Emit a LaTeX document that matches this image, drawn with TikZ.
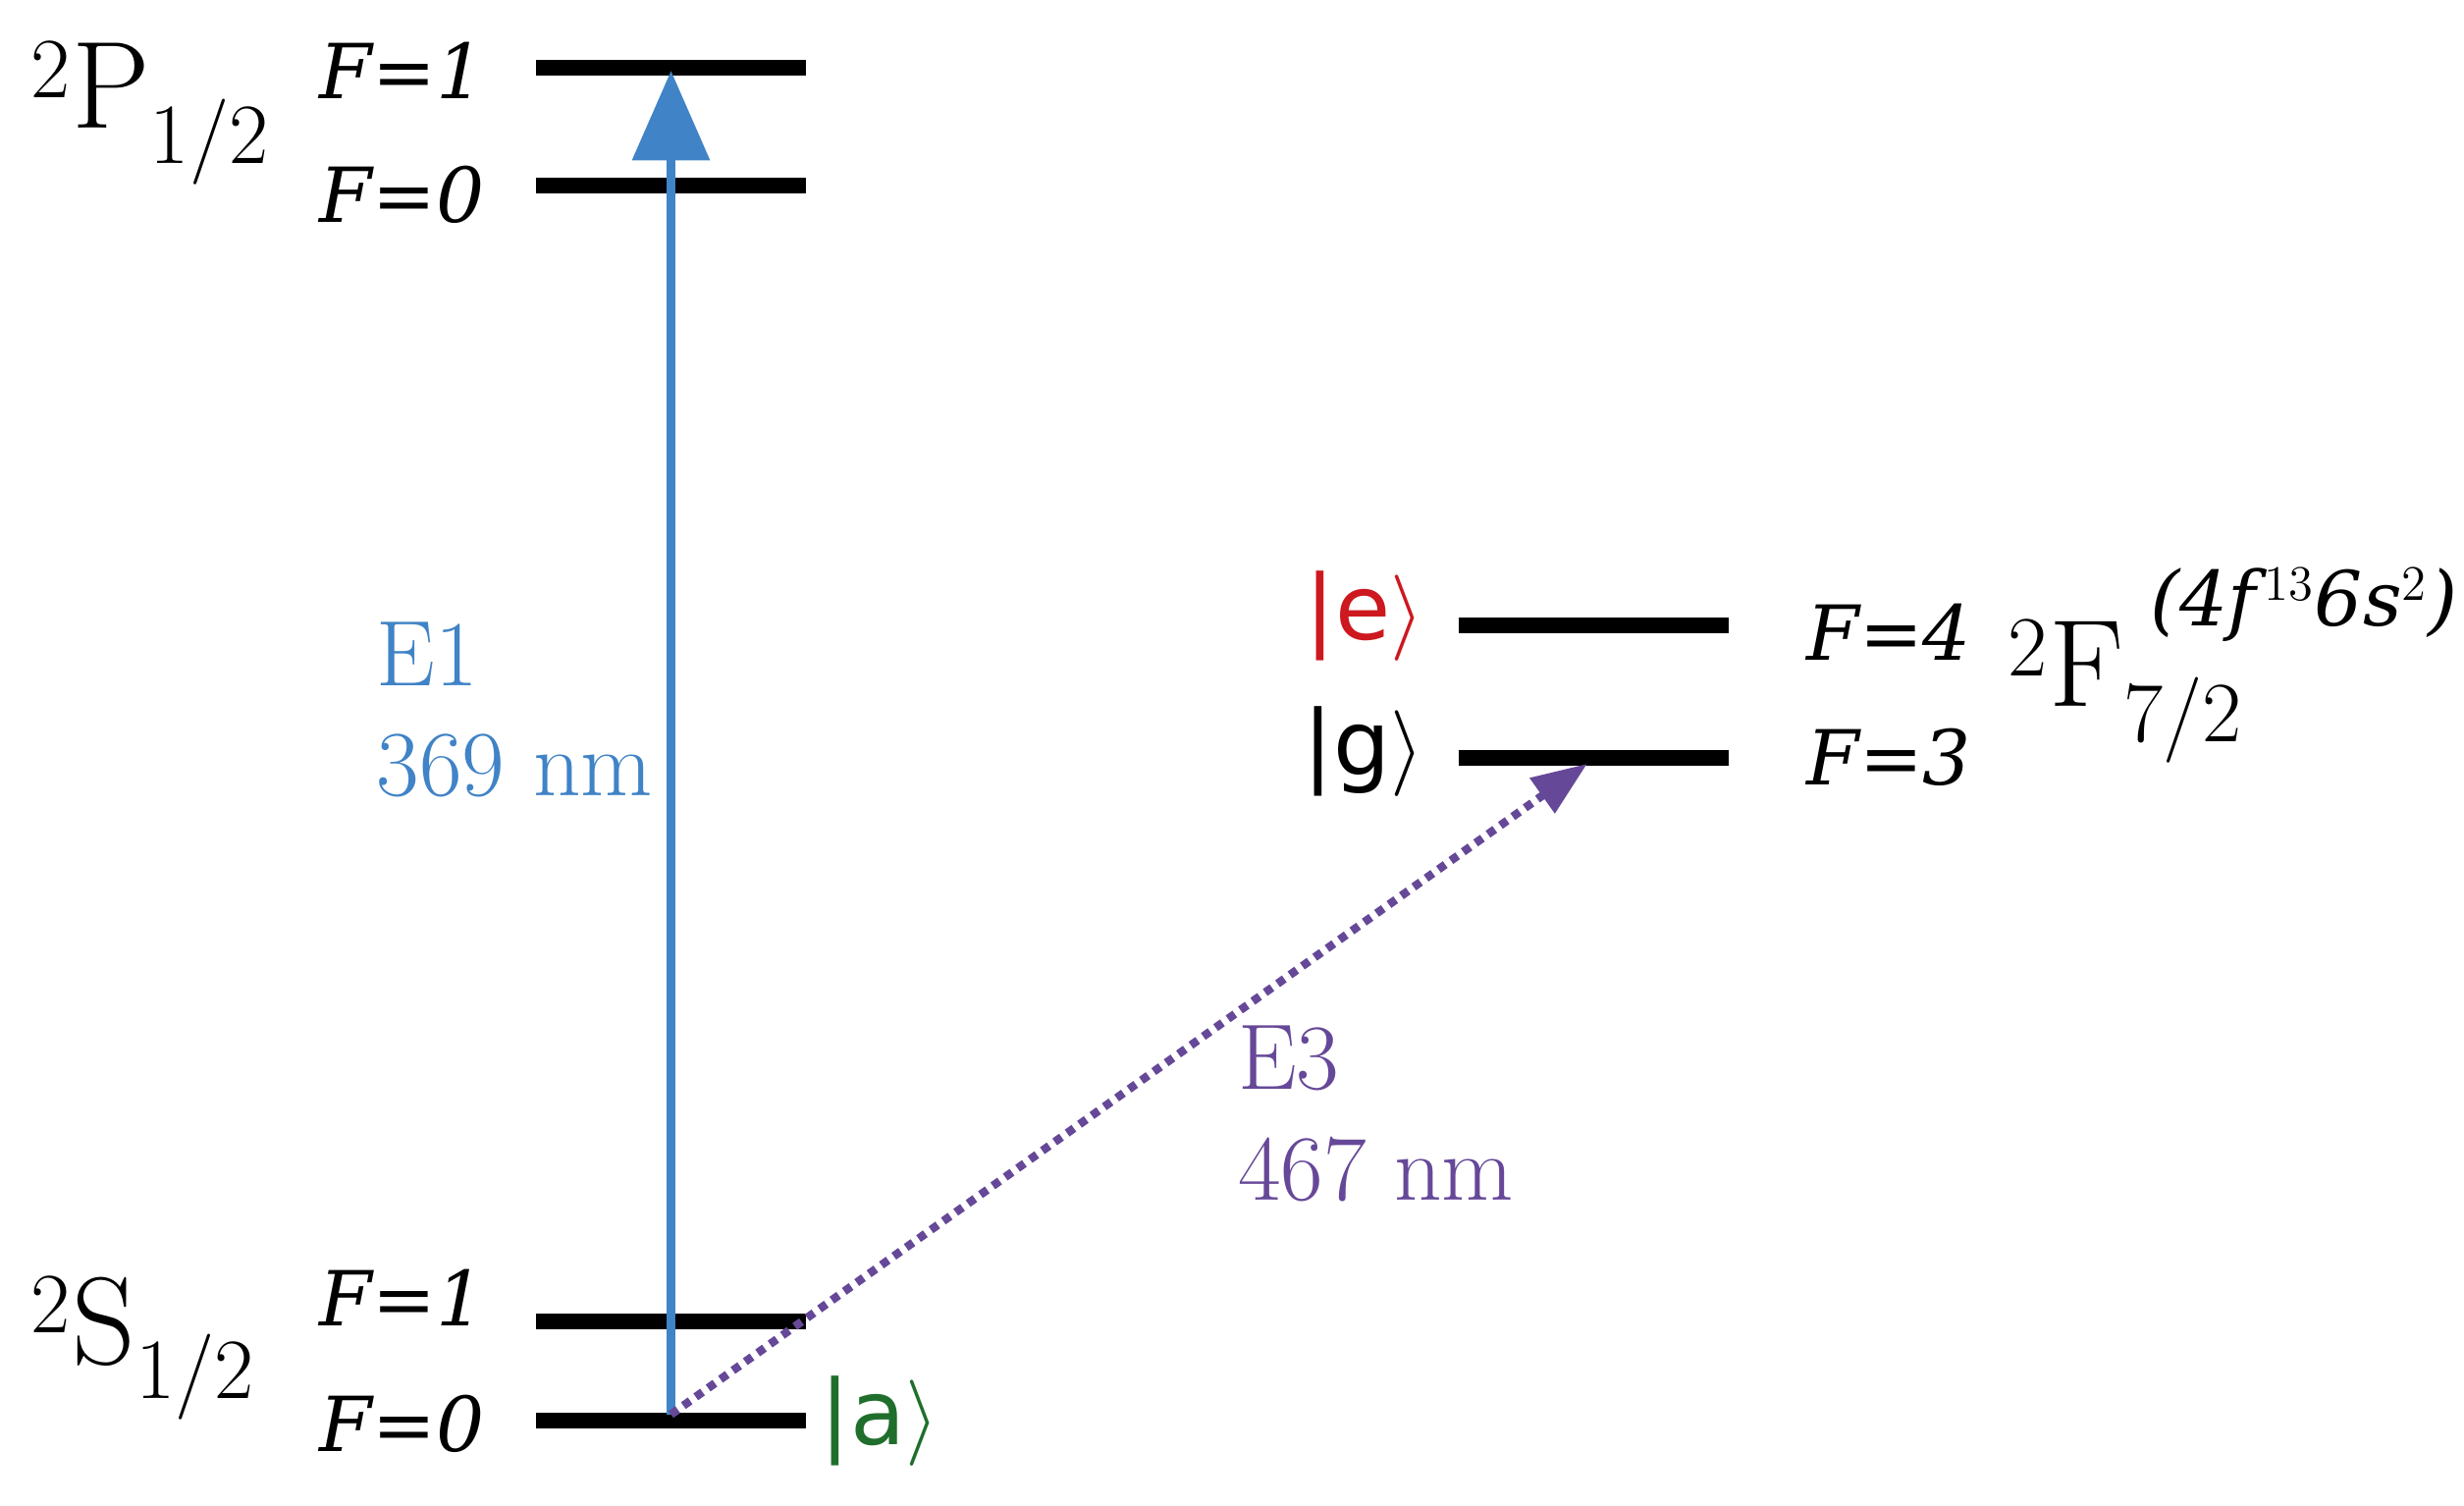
\documentclass[tikz,border=0pt]{standalone}
\usepackage{fontspec}
\setsansfont{DejaVu Sans}
\newfontfamily\tnr{DejaVu Serif}
\usetikzlibrary{arrows.meta}
\definecolor{eblue}{RGB}{64,131,198}
\definecolor{epurple}{RGB}{102,72,152}
\definecolor{ered}{RGB}{204,24,30}
\definecolor{egreen}{RGB}{32,110,44}
\begin{document}
\begin{tikzpicture}[x=0.016cm,y=-0.016cm,
  lev/.style={line width=4.6pt,black},
  fl/.style={font=\fontsize{22}{26}\selectfont\tnr\itshape,anchor=east},
  term/.style={font=\fontsize{36}{40}\selectfont,anchor=west},
  lbl/.style={font=\fontsize{27}{32}\selectfont,align=left,anchor=north west},
  ket/.style={font=\fontsize{26}{30}\selectfont\sffamily}]
\useasboundingbox (0,0) rectangle (1568,958);
% levels
\coordinate (p1a) at (341,43); \coordinate (p1b) at (513,43);
\coordinate (p0a) at (341,118); \coordinate (p0b) at (513,118);
\coordinate (s1a) at (341,841); \coordinate (s1b) at (513,841);
\coordinate (s0a) at (341,904); \coordinate (s0b) at (513,904);
\coordinate (f4a) at (928,398); \coordinate (f4b) at (1100,398);
\coordinate (f3a) at (928,482); \coordinate (f3b) at (1100,482);
\draw[lev] (p1a)--(p1b); \draw[lev] (p0a)--(p0b);
\draw[lev] (s1a)--(s1b); \draw[lev] (s0a)--(s0b);
\draw[lev] (f4a)--(f4b); \draw[lev] (f3a)--(f3b);
% F labels
\node[fl] (lp1) at (316,45) {F=1};
\node[fl] (lp0) at (316,124) {F=0};
\node[fl] (ls1) at (316,826) {F=1};
\node[fl] (ls0) at (316,906) {F=0};
\node[fl,anchor=west] (lf4) at (1142,402) {F=4};
\node[fl,anchor=west] (lf3) at (1142,482) {F=3};
% terms
\node[term] (tp) at (12,72) {$^{2}$P$_{1/2}$};
\node[term] (ts) at (12,858) {$^{2}$S$_{1/2}$};
\node[term] (tf) at (1270,440) {$^{2}$F$_{7/2}$};
\node[font=\fontsize{22}{26}\selectfont\tnr\itshape] (cfg) at (1466,385) {(4f$^{\,13}$6s$^{2}$)};
% kets
\node[ket,text=ered,anchor=east] (ke) at (914,392) {|e$\rangle$};
\node[ket,anchor=east] (kg) at (914,478) {|g$\rangle$};
\node[ket,text=egreen,anchor=west] (ka) at (514,904) {|a$\rangle$};
% transitions
\coordinate (s0) at (427,900);
\coordinate (p1) at (427,45);
\coordinate (f3) at (1010,486);
\draw[eblue,line width=2.6pt,-{Triangle[width=22pt,length=26pt]}] (s0)--(p1);
\draw[epurple,line width=2.4pt,dotted,-{Triangle[width=12pt,length=16pt]}] (s0)--(f3);
\node[lbl,text=eblue] (e1) at (232,388) {E1\\369 nm};
\node[lbl,text=epurple] (e3) at (780,645) {E3\\467 nm};
\end{tikzpicture}
\end{document}
